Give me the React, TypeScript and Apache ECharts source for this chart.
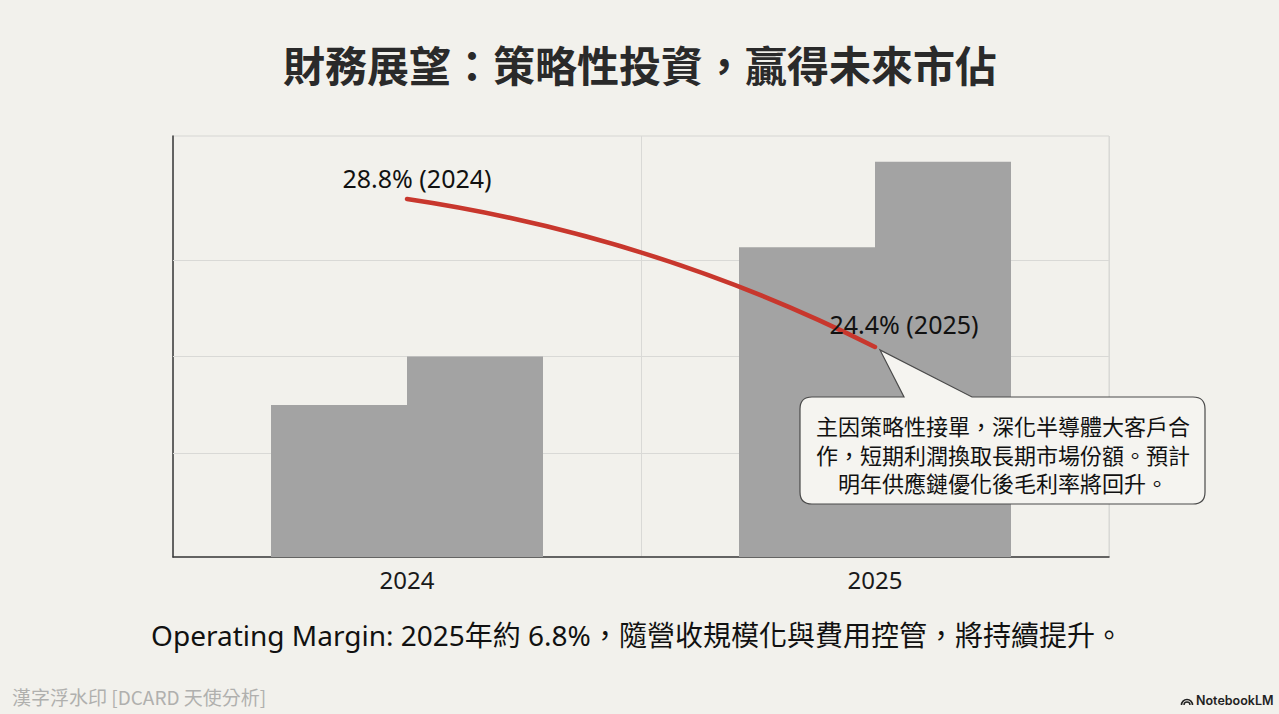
import React, { useEffect, useRef } from "react";
import * as echarts from "echarts";

// ---- data ----
const categories = ["2024", "2025"];
const barSeriesA = [36.1, 73.6];
const barSeriesB = [47.6, 93.9];
const marginValues = [28.8, 24.4];
const gridValues = [24.7, 47.7, 70.5];
const titleText = "財務展望：策略性投資，贏得未來市佔";
const subtitleText = "Operating Margin: 2025年約 6.8%，隨營收規模化與費用控管，將持續提升。";
const calloutLines = [
  "主因策略性接單，深化半導體大客戶合",
  "作，短期利潤換取長期市場份額。預計",
  "明年供應鏈優化後毛利率將回升。",
];
const watermarkText = "漢字浮水印 [DCARD 天使分析]";
const brandText = "NotebookLM";

// ---- styling helpers ----
const FONT = "'Noto Sans', 'Noto Sans CJK TC', sans-serif";
const CJK = "'Noto Sans CJK TC', 'Noto Sans', sans-serif";
const BG = "#f2f1ec";
const labelOffsets = [
  [10, -21],
  [29, -23],
];

const calloutPath =
  "M812 397 L904 397 L880 350 L972 397 L1193 397 Q1205 397 1205 409 L1205 492 Q1205 504 1193 504 L812 504 Q800 504 800 492 L800 409 Q800 397 812 397 Z";
echarts.graphic.registerShape("callout", echarts.graphic.extendPath(calloutPath, {}));

export default function App() {
  const ref = useRef<HTMLDivElement>(null);

  useEffect(() => {
    if (!ref.current) return;
    const chart = echarts.init(ref.current, null, { renderer: "svg" });
    chart.setOption({
      animation: false,
      backgroundColor: BG,
      grid: {
        left: 173,
        top: 136,
        right: 170,
        bottom: 157,
        show: true,
        borderColor: "#d6d6d3",
        borderWidth: 1,
        backgroundColor: "transparent",
      },
      xAxis: {
        type: "category",
        data: categories,
        axisLine: { show: true, lineStyle: { color: "#3a3a3a", width: 1.5 } },
        axisTick: { show: false },
        splitLine: { show: true, lineStyle: { color: "#d9d9d6", width: 1 } },
        axisLabel: { fontSize: 24, color: "#1a1a1a", margin: 10, fontFamily: FONT },
      },
      yAxis: [
        {
          type: "value",
          min: 0,
          max: 100,
          axisLine: { show: true, lineStyle: { color: "#3a3a3a", width: 1.5 } },
          axisLabel: { show: false },
          axisTick: { show: false },
          splitLine: { show: false },
        },
        {
          type: "value",
          min: 18.15,
          max: 30.675,
          show: false,
          splitLine: { show: false },
        },
      ],
      series: [
        {
          type: "bar",
          data: barSeriesA,
          barWidth: 136,
          barGap: "0%",
          itemStyle: { color: "#a3a3a3" },
          z: 2,
          markLine: {
            silent: true,
            symbol: "none",
            z: 1,
            label: { show: false },
            lineStyle: { color: "#d9d9d6", width: 1, type: "solid" },
            data: gridValues.map((v) => ({ yAxis: v })),
          },
        },
        {
          type: "bar",
          data: barSeriesB,
          barWidth: 136,
          barGap: "0%",
          itemStyle: { color: "#a3a3a3" },
          z: 2,
        },
        {
          type: "lines",
          coordinateSystem: "cartesian2d",
          xAxisIndex: 0,
          yAxisIndex: 1,
          z: 4,
          lineStyle: { color: "#c8372d", width: 4.5, curveness: 0.08, cap: "round", opacity: 1 },
          data: [
            {
              coords: [
                [0, marginValues[0]],
                [1, marginValues[1]],
              ],
            },
          ],
        },
        {
          type: "scatter",
          yAxisIndex: 1,
          symbolSize: 0,
          z: 6,
          itemStyle: { opacity: 1 },
          data: marginValues.map((v, i) => ({
            value: v,
            label: { offset: labelOffsets[i] },
          })),
          label: {
            show: true,
            position: "inside",
            fontSize: 25,
            fontFamily: FONT,
            color: "#111111",
            opacity: 1,
            formatter: (p: any) => `${p.value}% (${categories[p.dataIndex]})`,
          },
        },
      ],
      graphic: [
        {
          type: "text",
          x: 640,
          y: 63,
          style: {
            text: titleText,
            align: "center",
            verticalAlign: "middle",
            fontSize: 42,
            fontWeight: "bold",
            fontFamily: CJK,
            fill: "#2a2a2a",
          },
        },
        {
          type: "callout",
          x: 0,
          y: 0,
          z: 10,
          style: { fill: "#f5f4f0", stroke: "#4a4a4a", lineWidth: 1.2 },
        },
        ...calloutLines.map((t, i) => ({
          type: "text",
          x: 1003,
          y: 425 + i * 28.5,
          z: 11,
          style: {
            text: t,
            align: "center",
            verticalAlign: "middle",
            fontSize: 22,
            fontFamily: CJK,
            fill: "#111111",
          },
        })),
        {
          type: "text",
          x: 637,
          y: 635,
          style: {
            text: subtitleText,
            align: "center",
            verticalAlign: "middle",
            fontSize: 28,
            fontFamily: FONT,
            fill: "#111111",
          },
        },
        {
          type: "text",
          x: 12,
          y: 696,
          style: {
            text: watermarkText,
            align: "left",
            verticalAlign: "middle",
            fontSize: 19,
            fontFamily: CJK,
            fill: "#b0b0ae",
          },
        },
        {
          type: "text",
          x: 1196,
          y: 700,
          style: {
            text: brandText,
            align: "left",
            verticalAlign: "middle",
            fontSize: 12.5,
            fontWeight: 600,
            fontFamily: "Inter, 'Open Sans', sans-serif",
            fill: "#222222",
          },
        },
        {
          type: "arc",
          shape: { cx: 1187, cy: 705, r: 5.5, startAngle: Math.PI, endAngle: 2 * Math.PI },
          style: { stroke: "#222", lineWidth: 1.6, fill: "none" },
        },
        {
          type: "arc",
          shape: { cx: 1187, cy: 705, r: 3, startAngle: Math.PI, endAngle: 2 * Math.PI },
          style: { stroke: "#222", lineWidth: 1.4, fill: "none" },
        },
      ],
    });
    return () => chart.dispose();
  }, []);

  return (
    <div
      ref={ref}
      style={{ position: "fixed", left: 0, top: 0, width: 1279, height: 714, background: BG }}
    />
  );
}
